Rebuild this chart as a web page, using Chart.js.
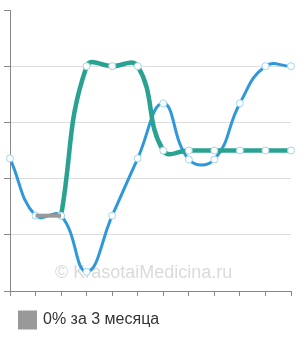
<!DOCTYPE html>
<html>
<head>
<meta charset="utf-8">
<script src="https://cdn.jsdelivr.net/npm/chart.js@4/dist/chart.umd.min.js"></script>
<style>
  body { margin: 0; background: #fff; }
  #wrap { width: 300px; height: 340px; }
</style>
</head>
<body>
<div id="wrap"><canvas id="chart" width="300" height="340"></canvas></div>
<script>
// données
const labels = ['', '', '', '', '', '', '', '', '', '', '', ''];
const grayValues  = [null, 1.34, 1.34, null, null, null, null, null, null, null, null, null];
const greenValues = [null, null, 1.34, 4, 4, 4, 2.5, 2.5, 2.5, 2.5, 2.5, 2.5];
const blueValues  = [2.36, 1.34, 1.34, 0.34, 1.34, 2.36, 3.34, 2.34, 2.34, 3.34, 4, 4];
const legendLabel = '0% за 3 месяца';
const watermark = '© KrasotaiMedicina.ru';

const watermarkPlugin = {
    id: 'watermark',
    beforeDatasetsDraw(chart) {
        const ctx = chart.ctx;
        ctx.save();
        ctx.font = '18px "Liberation Sans", Arial, sans-serif';
        ctx.fillStyle = '#dadada';
        ctx.textBaseline = 'alphabetic';
        ctx.fillText(watermark, 55, 278);
        ctx.restore();
    }
};

new Chart(document.getElementById('chart'), {
    type: 'line',
    data: {
        labels: labels,
        datasets: [
            {
                label: legendLabel,
                data: grayValues,
                borderColor: '#999999',
                backgroundColor: '#999999',
                borderWidth: 4,
                pointRadius: 0,
                tension: 0.45,
                order: 0
            },
            {
                label: 'green',
                data: greenValues,
                borderColor: '#2aa291',
                borderWidth: 4.5,
                pointRadius: 3.5,
                pointBorderWidth: 1,
                pointBackgroundColor: '#ffffff',
                pointBorderColor: '#a3d3e3',
                tension: 0.45,
                order: 1
            },
            {
                label: 'blue',
                data: blueValues,
                borderColor: '#2e98da',
                borderWidth: 3,
                pointRadius: 3.5,
                pointBorderWidth: 1,
                pointBackgroundColor: '#ffffff',
                pointBorderColor: '#9fd6f2',
                tension: 0.45,
                order: 2
            }
        ]
    },
    options: {
        responsive: false,
        animation: false,
        layout: { padding: { left: 4, top: 10, right: 9, bottom: 2 } },
        plugins: {
            tooltip: { enabled: false },
            legend: {
                position: 'bottom',
                align: 'start',
                labels: {
                    boxWidth: 15,
                    boxHeight: 15,
                    padding: 16,
                    color: '#333333',
                    font: { family: '"Liberation Sans", Arial, sans-serif', size: 16 },
                    filter: item => item.datasetIndex === 0
                }
            }
        },
        scales: {
            x: {
                offset: false,
                grid: { drawOnChartArea: false, drawTicks: true, tickLength: 5, tickColor: '#888888' },
                border: { color: '#888888' },
                ticks: { display: false }
            },
            y: {
                min: 0,
                max: 5,
                ticks: { display: false, stepSize: 1 },
                grid: {
                    color: c => (c.tick && c.tick.value === 5) ? 'rgba(0,0,0,0)' : '#dddddd',
                    tickLength: 6,
                    tickColor: '#888888'
                },
                border: { color: '#888888' }
            }
        }
    },
    plugins: [watermarkPlugin]
});
</script>
</body>
</html>
